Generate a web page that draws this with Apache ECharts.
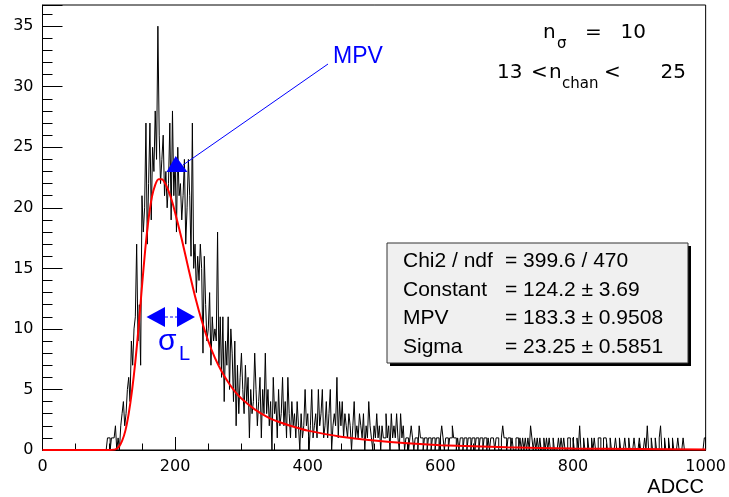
<!DOCTYPE html>
<html>
<head>
<meta charset="utf-8">
<script src="https://cdn.jsdelivr.net/npm/echarts@6/dist/echarts.min.js"></script>
<style>
html,body{margin:0;padding:0;background:#fff;}
#chart{width:729px;height:497px;}
</style>
</head>
<body>
<div id="chart"></div>
<script>
// Histogram: 500 bins of width 2 ADCC, from 0 to 1000 (counts)
const binLow = 0;
const binWidth = 2;
const counts = [
  0,0,0,0,0,0,0,0,0,0,
  0,0,0,0,0,0,0,0,0,0,
  0,0,0,0,0,0,0,0,0,0,
  0,0,0,0,0,0,0,0,0,0,
  0,0,0,0,0,0,0,0,0,1,
  1,0,1,1,1,2,0,1,0,2,
  3,4,2,3,5,6,4,9,7,10,
  11,17,9,12,7,21,18,20,27,17,
  22,27,19,25,23,28,24,35,26,22,
  24,26,21,23,20,22,27,19,28,21,
  24,18,25,21,22,19,21,24,17,20,
  24,21,16,27,15,17,13,16,14,17,
  15,8,16,12,9,10,13,7,11,9,
  10,9,18,7,11,6,11,4,9,7,
  11,5,10,8,4,9,2,7,3,6,
  8,5,3,7,4,6,1,5,3,4,
  8,5,2,4,6,1,5,3,8,3,
  5,2,4,0,6,3,4,1,5,2,
  3,6,2,4,1,6,3,1,4,2,
  3,1,4,2,0,3,1,2,5,2,
  3,0,2,5,1,2,3,1,5,2,
  3,5,1,2,4,1,3,5,0,2,
  3,2,6,1,4,2,4,1,3,2,
  1,3,2,0,2,4,1,2,1,3,
  2,1,3,0,2,1,4,2,1,0,
  2,1,3,1,2,0,2,1,1,3,
  1,2,0,3,1,2,1,3,1,0,
  3,1,2,0,1,1,0,1,2,1,
  0,1,1,0,2,1,1,0,1,1,
  0,1,1,0,1,1,0,1,1,0,
  1,2,1,0,1,1,0,1,1,2,
  1,1,0,1,0,1,1,0,1,1,
  0,1,1,0,1,1,0,1,1,0,
  1,1,0,1,1,0,1,0,1,1,
  1,0,1,1,0,0,1,2,1,1,
  0,1,1,0,1,0,0,1,1,0,
  1,0,1,0,1,0,1,0,2,1,
  0,1,0,1,0,1,0,0,1,0,
  1,0,1,0,0,1,0,0,0,1,
  0,1,0,1,0,0,1,1,0,0,
  1,0,0,1,0,2,0,0,1,0,
  0,1,0,0,1,0,1,0,0,1,
  1,0,0,1,1,1,0,0,1,0,
  0,0,1,0,0,1,0,0,0,1,
  0,0,1,0,0,0,1,0,0,0,
  1,0,0,0,1,0,2,0,0,1,
  0,0,1,0,0,1,2,0,0,1,
  0,0,1,0,0,1,0,0,0,1,
  0,0,0,1,0,0,0,0,0,0,
  0,0,0,0,0,0,0,0,0,1
];

// Landau fit curve
const fitX = [0,100,105,110,115,120,125,130,135,140,145,150,155,160,165,170,175,180,185,190,195,200,210,220,230,240,250,260,270,280,290,300,320,340,360,380,400,450,500,550,600,700,800,900,1000];
const fitY = [0,0,0.01,0.05,0.25,0.75,1.6,3.0,4.9,7.3,10.2,13.5,16.6,19.1,20.9,21.9,22.35,22.35,22.0,21.4,20.6,19.6,17.4,15.0,12.7,10.7,9.0,7.6,6.5,5.6,4.85,4.25,3.35,2.7,2.25,1.9,1.6,1.1,0.78,0.55,0.4,0.23,0.13,0.08,0.05];

// Axis settings
const xMin = 0, xMax = 1000, xMajor = 200;
const yMin = 0, yMax = 36.75, yMajor = 5, yMinor = 1;

// Text
const statsLabels = ["Chi2 / ndf", "Constant", "MPV", "Sigma"];
const statsValues = ["= 399.6 / 470", "= 124.2 \u00b1 3.69", "= 183.3 \u00b1 0.9508", "= 23.25 \u00b1 0.5851"];
const xTitle = "ADCC";

const histData = counts.map((c, i) => [binLow + i * binWidth, c]);
histData.push([binLow + counts.length * binWidth, counts[counts.length - 1]]);
const fitData = fitX.map((x, i) => [x, fitY[i]]);

const chart = echarts.init(document.getElementById('chart'), null, {renderer: 'canvas'});

const tickFont = 'DejaVu Sans';
const helv = 'Liberation Sans';
const blue = '#0000ff';

const statsY = [261, 290, 318, 347];

const graphics = [
  {type:'rect', shape:{x:390, y:246, width:301, height:120}, style:{fill:'#000'}, z:10},
  {type:'rect', shape:{x:387, y:243, width:301, height:120}, style:{fill:'#f0f0f0', stroke:'#333', lineWidth:1}, z:11},
];
statsLabels.forEach((t, i) => {
  graphics.push({type:'text', z:12, style:{text:t, x:403, y:statsY[i], font:'21px "' + helv + '"', fill:'#000', textVerticalAlign:'middle', verticalAlign:'middle'}});
  graphics.push({type:'text', z:12, style:{text:statsValues[i], x:505, y:statsY[i], font:'21px "' + helv + '"', fill:'#000', textVerticalAlign:'middle', verticalAlign:'middle'}});
});

// top right annotation
const annFont = '20px "' + tickFont + '"';
const subFont = '15px "' + tickFont + '"';
const ann = [
  {t:'n', x:543, y:33, f:annFont, a:'left'},
  {t:'\u03c3', x:557, y:44, f:subFont, a:'left'},
  {t:'=', x:585, y:33, f:annFont, a:'left'},
  {t:'10', x:646, y:33, f:annFont, a:'right'},
  {t:'13', x:497, y:73, f:annFont, a:'left'},
  {t:'<', x:531, y:73, f:annFont, a:'left'},
  {t:'n', x:549, y:73, f:annFont, a:'left'},
  {t:'chan', x:562, y:84, f:subFont, a:'left'},
  {t:'<', x:604, y:73, f:annFont, a:'left'},
  {t:'25', x:686, y:73, f:annFont, a:'right'}
];
ann.forEach(o => graphics.push({type:'text', z:12, style:{text:o.t, x:o.x, y:o.y, font:o.f, fill:'#000', textAlign:o.a, align:o.a, textVerticalAlign:'middle', verticalAlign:'middle'}}));

// MPV annotation
graphics.push({type:'text', z:12, style:{text:'MPV', x:333, y:57, font:'23px "' + helv + '"', fill:blue, textVerticalAlign:'middle', verticalAlign:'middle'}});
graphics.push({type:'line', z:12, shape:{x1:183, y1:165, x2:328, y2:64}, style:{stroke:blue, lineWidth:1}});
graphics.push({type:'polygon', z:12, shape:{points:[[175.7,156],[166.5,172],[187.5,172]]}, style:{fill:blue}});

// sigma_L annotation
graphics.push({type:'polygon', z:12, shape:{points:[[146.5,317],[165,307],[165,327]]}, style:{fill:blue}});
graphics.push({type:'polygon', z:12, shape:{points:[[195,317],[177,307],[177,327]]}, style:{fill:blue}});
graphics.push({type:'line', z:12, shape:{x1:165, y1:317, x2:177, y2:317}, style:{stroke:blue, lineWidth:1, lineDash:[3,2]}});
graphics.push({type:'text', z:12, style:{text:'\u03c3', x:158, y:342, font:'30px "' + helv + '"', fill:blue, textVerticalAlign:'middle', verticalAlign:'middle'}});
graphics.push({type:'text', z:12, style:{text:'L', x:179, y:354, font:'20px "' + helv + '"', fill:blue, textVerticalAlign:'middle', verticalAlign:'middle'}});

// axis title
graphics.push({type:'text', z:12, style:{text:xTitle, x:704, y:487, font:'20px "' + helv + '"', fill:'#000', textAlign:'right', align:'right', textVerticalAlign:'middle', verticalAlign:'middle'}});

const option = {
  animation: false,
  backgroundColor: '#fff',
  grid: {left: 42.5, right: 23, top: 5, bottom: 47, show: true, borderColor: '#000', borderWidth: 1, backgroundColor: 'transparent'},
  xAxis: [{
    type: 'value', min: xMin, max: xMax, interval: xMajor, position: 'bottom',
    axisLine: {show: true, lineStyle: {color: '#000', width: 1}},
    axisTick: {show: true, inside: true, length: 13, lineStyle: {color: '#000'}},
    minorTick: {show: true, splitNumber: 4, length: 6.5, lineStyle: {color: '#000'}},
    axisLabel: {fontFamily: tickFont, fontSize: 16, color: '#000', margin: 9, formatter: v => String(v)},
    splitLine: {show: false}
  }],
  yAxis: [{
    type: 'value', min: yMin, max: yMax, interval: yMajor, position: 'left',
    axisLine: {show: true, lineStyle: {color: '#000', width: 1}},
    axisTick: {show: true, inside: true, length: 20, lineStyle: {color: '#000'}},
    axisLabel: {fontFamily: tickFont, fontSize: 16, color: '#000', margin: 9,
      formatter: v => (Math.abs(v % yMajor) < 1e-9 ? String(v) : '')},
    splitLine: {show: false}
  }, {
    type: 'value', min: yMin, max: yMax, interval: yMinor, position: 'left',
    axisLine: {show: false},
    axisTick: {show: true, inside: true, length: 10, lineStyle: {color: '#000'}},
    axisLabel: {show: false},
    splitLine: {show: false}
  }],
  series: [{
    type: 'line', data: histData, step: 'end', showSymbol: false, symbol: 'none',
    lineStyle: {color: '#000', width: 1}, z: 3, clip: true
  }, {
    type: 'line', data: fitData, smooth: 0.25, showSymbol: false, symbol: 'none',
    lineStyle: {color: '#ff0000', width: 2}, z: 5, zlevel: 1, clip: true
  }],
  graphic: graphics
};
chart.setOption(option);
</script>
</body>
</html>
